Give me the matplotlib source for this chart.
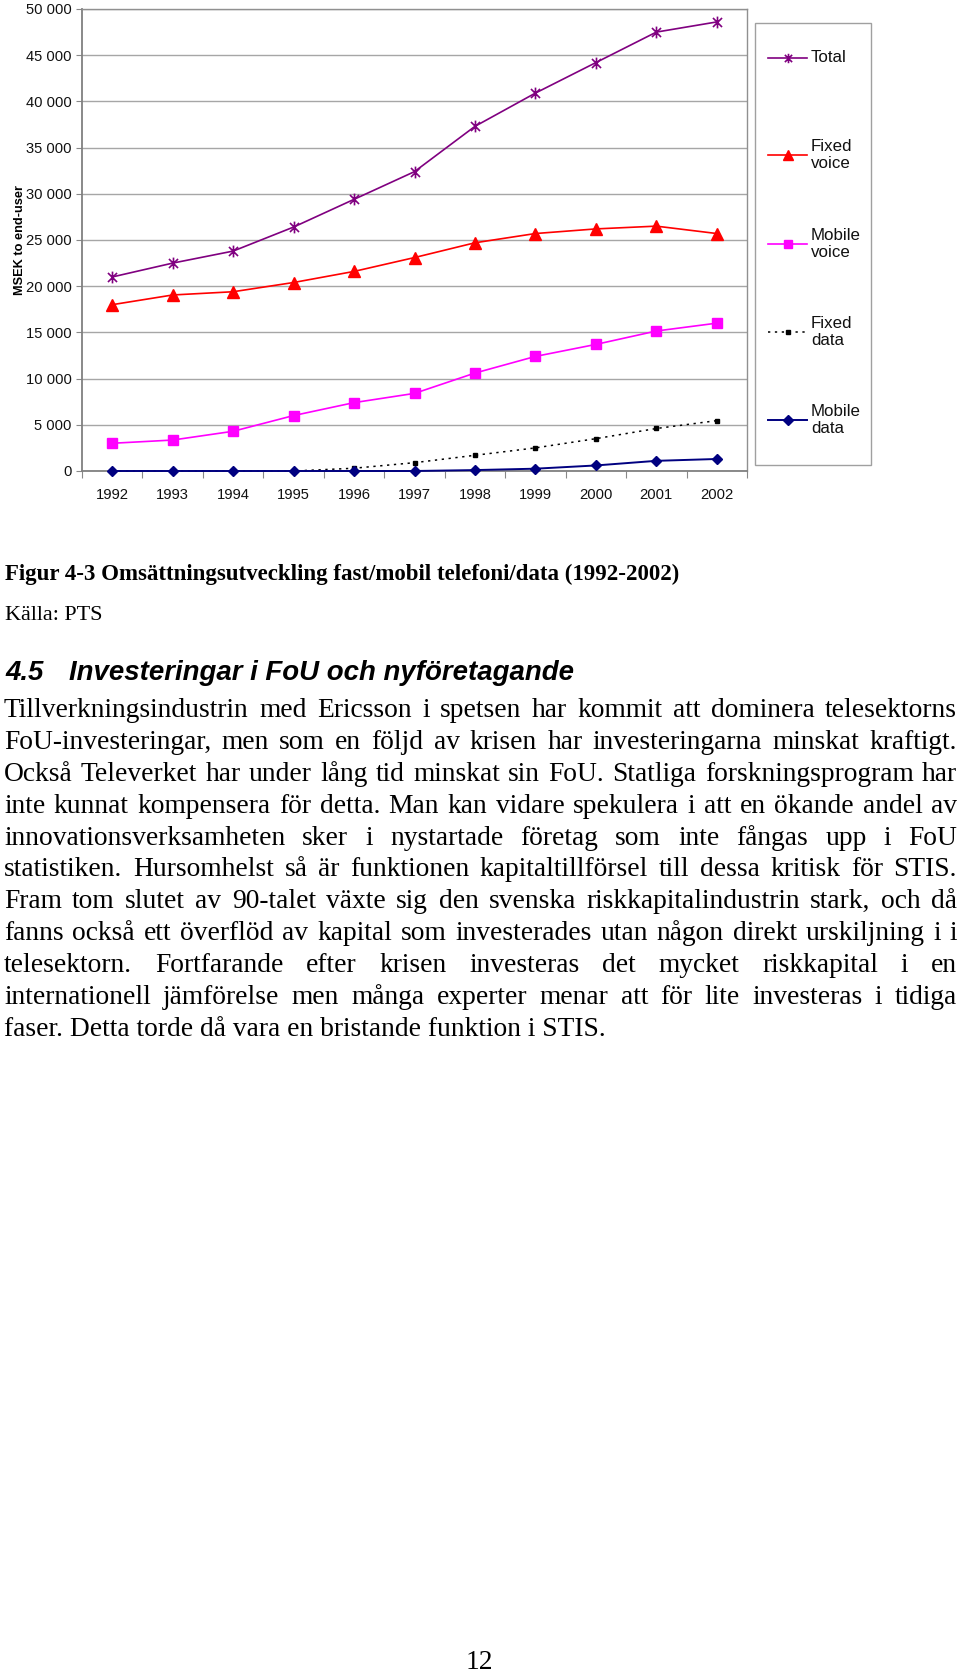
import matplotlib
matplotlib.use('Agg')
import matplotlib.pyplot as plt
from matplotlib.path import Path
from matplotlib.lines import Line2D
from matplotlib.patches import Rectangle

# ---------------- data ----------------
years = ['1992', '1993', '1994', '1995', '1996', '1997', '1998', '1999', '2000', '2001', '2002']
total = [21000, 22500, 23800, 26400, 29400, 32400, 37300, 40900, 44200, 47500, 48600]
fixed_voice = [18000, 19050, 19400, 20400, 21600, 23100, 24700, 25700, 26200, 26500, 25700]
mobile_voice = [3000, 3350, 4300, 6000, 7400, 8400, 10600, 12400, 13700, 15150, 16000]
fixed_data = [0, 0, 0, 0, 300, 900, 1700, 2500, 3500, 4600, 5450]
mobile_data = [0, 0, 0, 0, 0, 0, 100, 250, 600, 1100, 1300]
series_labels = ['Total', 'Fixed\nvoice', 'Mobile\nvoice', 'Fixed\ndata', 'Mobile\ndata']
y_ticks = [0, 5000, 10000, 15000, 20000, 25000, 30000, 35000, 40000, 45000, 50000]
y_label = 'MSEK to end-user'

caption = 'Figur 4-3 Omsättningsutveckling fast/mobil telefoni/data (1992-2002)'
source = 'Källa: PTS'
heading_num = '4.5'
heading = 'Investeringar i FoU och nyföretagande'
body_lines = [
    'Tillverkningsindustrin med Ericsson i spetsen har kommit att dominera telesektorns',
    'FoU-investeringar, men som en följd av krisen har investeringarna minskat kraftigt.',
    'Också Televerket har under lång tid minskat sin FoU. Statliga forskningsprogram har',
    'inte kunnat kompensera för detta. Man kan vidare spekulera i att en ökande andel av',
    'innovationsverksamheten sker i nystartade företag som inte fångas upp i FoU',
    'statistiken. Hursomhelst så är funktionen kapitaltillförsel till dessa kritisk för STIS.',
    'Fram tom slutet av 90-talet växte sig den svenska riskkapitalindustrin stark, och då',
    'fanns också ett överflöd av kapital som investerades utan någon direkt urskiljning i i',
    'telesektorn. Fortfarande efter krisen investeras det mycket riskkapital i en',
    'internationell jämförelse men många experter menar att för lite investeras i tidiga',
    'faser. Detta torde då vara en bristande funktion i STIS.',
]
page_number = '12'

# ---------------- figure ----------------
W, H = 960, 1672
fig = plt.figure(figsize=(W / 100, H / 100), dpi=100)
fig.patch.set_facecolor('white')

def fx(px):
    return px / W

def fy(py):
    return 1 - py / H

ax_l, ax_r, ax_t, ax_b = 82, 747, 9, 471
ax = fig.add_axes([fx(ax_l), fy(ax_b), (ax_r - ax_l) / W, (ax_b - ax_t) / H])

star = Path([(-1, -1), (1, 1), (-1, 1), (1, -1), (0, -1.3), (0, 1.3)],
            [Path.MOVETO, Path.LINETO, Path.MOVETO, Path.LINETO, Path.MOVETO, Path.LINETO])

styles = [
    dict(color='#800080', marker=star, markersize=8.5, markeredgewidth=1.2, lw=1.2, ls='-',
         mfc='none', mec='#800080'),
    dict(color='#ff0000', marker='^', markersize=8, lw=1.2, ls='-', mec='#ff0000', mfc='#ff0000'),
    dict(color='#ff00ff', marker='s', markersize=6.8, lw=1.2, ls='-', mec='#ff00ff', mfc='#ff00ff'),
    dict(color='#000000', marker='s', markersize=3.4, lw=1.1, ls=(0, (1.5, 3)), mec='#000000', mfc='#000000'),
    dict(color='#000080', marker='D', markersize=5.2, lw=1.4, ls='-', mec='#000080', mfc='#000080'),
]
all_series = [total, fixed_voice, mobile_voice, fixed_data, mobile_data]
x = list(range(len(years)))
for vals, st in zip(all_series, styles):
    ax.plot(x, vals, clip_on=False, zorder=3, **st)

ax.set_xlim(-0.5, len(years) - 0.5)
ax.set_ylim(0, 50000)
ax.set_yticks(y_ticks)
ax.set_yticklabels([f'{v:,}'.replace(',', ' ') for v in y_ticks],
                   fontsize=10.6, family='Liberation Sans', color='#111111')
ax.set_xticks(x)
ax.set_xticklabels(years, fontsize=10.6, family='Liberation Sans', color='#111111')
ax.set_xticks([k - 0.5 for k in range(len(years) + 1)], minor=True)
ax.tick_params(axis='x', which='major', length=0, pad=12)
ax.tick_params(axis='x', which='minor', length=5, width=0.8, color='#888888', direction='out')
ax.tick_params(axis='y', which='major', length=4.5, width=0.8, color='#888888', direction='out', pad=3)
ax.grid(axis='y', color='#a6a6a6', lw=1.0, zorder=0)
for name, sp in ax.spines.items():
    sp.set_color('#909090')
    sp.set_linewidth(1.0)
ax.spines['left'].set_color('#808080')
ax.spines['bottom'].set_color('#808080')
ax.spines['left'].set_linewidth(1.3)
ax.spines['bottom'].set_linewidth(1.3)
ax.set_ylabel(y_label, fontsize=9.2, family='Liberation Sans', fontweight='bold')
ax.yaxis.set_label_coords((26 - ax_l) / (ax_r - ax_l), 0.5)

# ---------------- overlay in pixel coordinates ----------------
tax = fig.add_axes([0, 0, 1, 1])
tax.set_xlim(0, W)
tax.set_ylim(H, 0)
tax.axis('off')

# legend (manual layout)
tax.add_patch(Rectangle((755, 23), 116, 442, fill=False, ec='#a0a0a0', lw=1.0))
leg_y = [58, 155, 244, 332, 420]
for lab, st, yy in zip(series_labels, styles, leg_y):
    ln = Line2D([768, 807], [yy, yy], **st)
    ln.set_markevery([])
    tax.add_line(ln)
    mk = {k: v for k, v in st.items() if k not in ('ls', 'lw')}
    if mk['marker'] == '^':
        mk['markersize'] = 6.5
    elif mk['markersize'] > 6:
        mk['markersize'] = mk['markersize'] * 0.8
    tax.add_line(Line2D([787.5], [yy], ls='none', **mk))
    tax.text(811, yy, lab, fontsize=12.2, family='Liberation Sans', va='center', ha='left',
             linespacing=1.1, color='#111111')

renderer = fig.canvas.get_renderer()

def width_of(s, **kw):
    t = tax.text(0, 0, s, **kw)
    w = t.get_window_extent(renderer).width
    t.remove()
    return w

serif = 'Liberation Serif'
sans = 'Liberation Sans'

# body font size from the last line width
base = 20
lw_last = width_of(body_lines[-1], fontsize=base, family=serif)
body_fs = base * (601 / lw_last)

# caption
cw = width_of(caption, fontsize=base, family=serif, fontweight='bold')
cap_fs = base * 673 / cw
tax.text(5, 580, caption, fontsize=cap_fs, family=serif, fontweight='bold', va='baseline')
sw = width_of(source, fontsize=base, family=serif)
tax.text(5, 620, source, fontsize=base * 98 / sw, family=serif, va='baseline')

# heading
hw = width_of(heading, fontsize=base, family=sans, fontweight='bold', style='italic')
h_fs = base * 504 / hw
tax.text(5, 680, heading_num, fontsize=h_fs, family=sans, fontweight='bold', style='italic', va='baseline')
tax.text(69, 680, heading, fontsize=h_fs, family=sans, fontweight='bold', style='italic', va='baseline')

# justified body
left, right = 4, 957
base_y0, dy = 717, 31.9
for i, line in enumerate(body_lines):
    yb = base_y0 + i * dy
    if i == len(body_lines) - 1:
        tax.text(left, yb, line, fontsize=body_fs, family=serif, va='baseline')
        continue
    words = line.split(' ')
    ws = [width_of(w_, fontsize=body_fs, family=serif) for w_ in words]
    gap = (right - left - sum(ws)) / (len(words) - 1)
    xx = left
    for w_, wd in zip(words, ws):
        tax.text(xx, yb, w_, fontsize=body_fs, family=serif, va='baseline')
        xx += wd + gap

tax.text(479, 1669, page_number, fontsize=body_fs, family=serif, ha='center', va='baseline')

fig.savefig('out.png', dpi=100, facecolor='white')
